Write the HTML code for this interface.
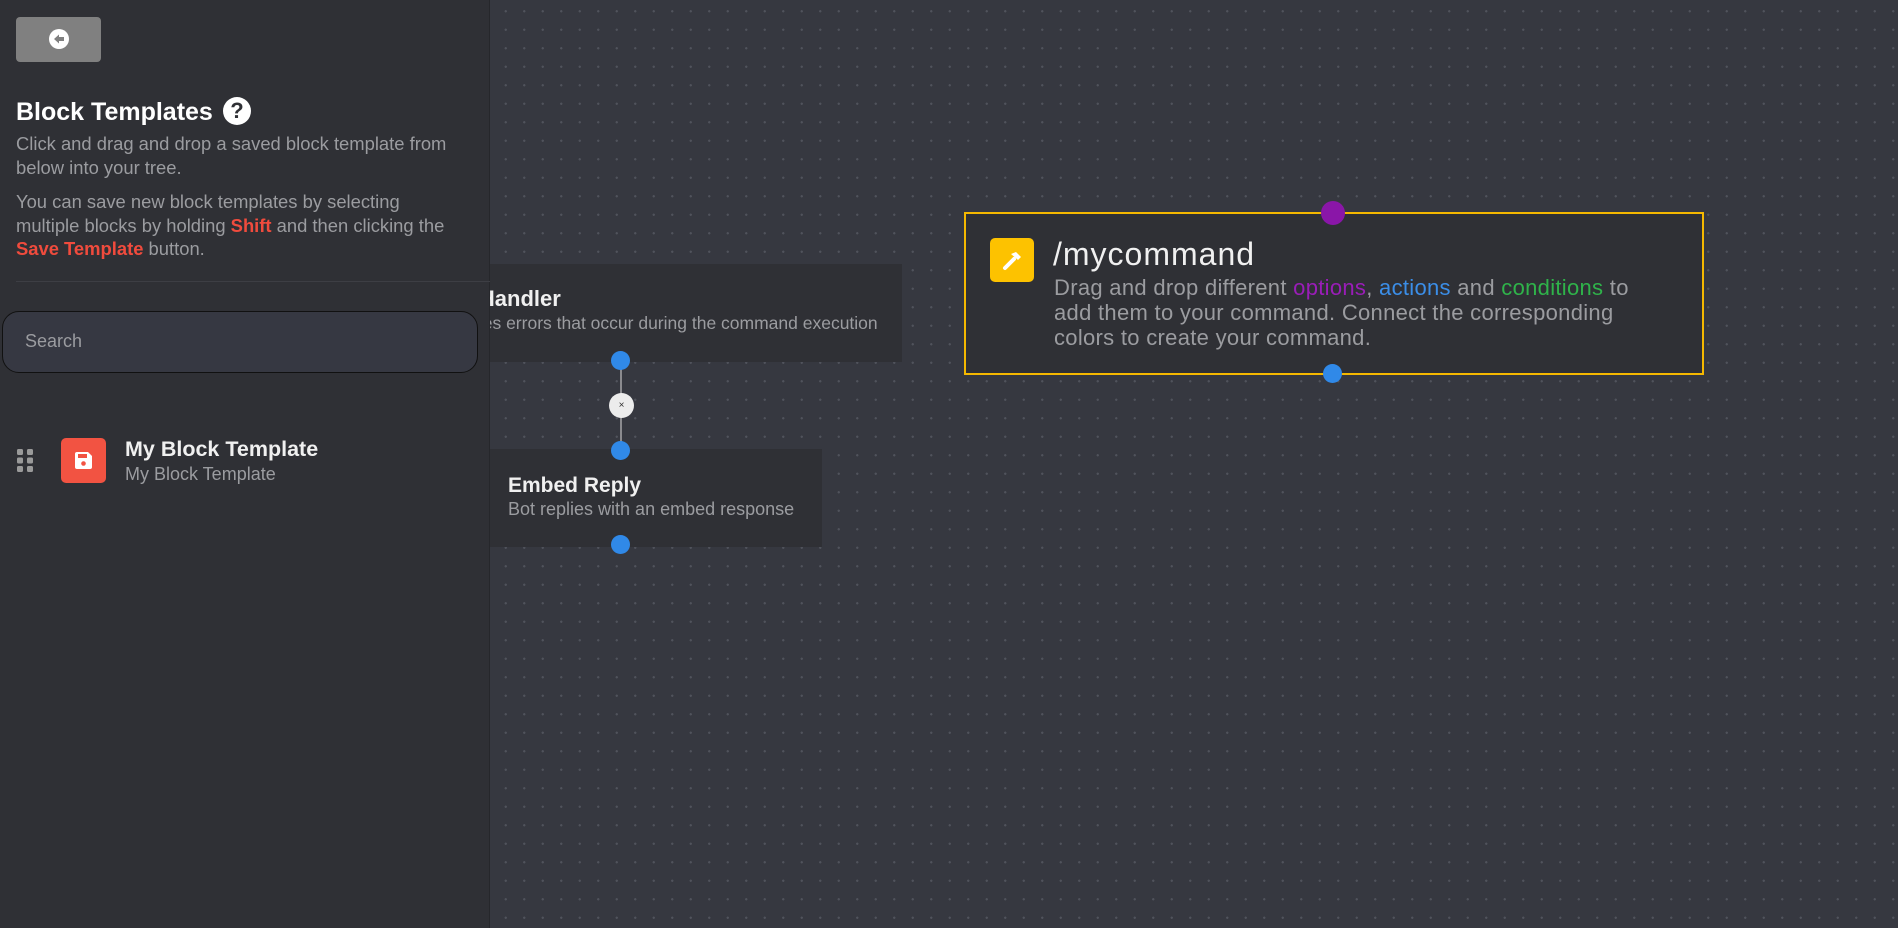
<!DOCTYPE html>
<html><head><meta charset="utf-8"><style>
*{margin:0;padding:0;box-sizing:border-box}
body{width:1898px;height:928px;overflow:hidden;background:#363840;font-family:"Liberation Sans",sans-serif;position:relative}
#canvas{position:absolute;left:0;top:0;width:1898px;height:928px;background-color:#363840;background-image:radial-gradient(circle,#50535c 1px,transparent 1.3px);background-size:18.5px 18.5px;background-position:-3px 2px}
.node{position:absolute;background:#2f3035}
.dot{position:absolute;border-radius:50%;width:19px;height:19px;background:#3089e8}
.t{position:absolute;white-space:nowrap}
#side{position:absolute;left:0;top:0;width:490px;height:928px;background:#2f3035;border-right:1px solid #26272b;z-index:5}
</style></head><body>
<div id="canvas"></div>
<div class="node" style="left:440px;top:264px;width:462px;height:98px"></div>
<div class="t" style="left:419px;top:286px;font-size:22px;color:#f0f0f0;font-weight:bold">Error Handler</div>
<div class="t" style="left:437px;top:313px;font-size:17.5px;color:#9b9ca0">Handles errors that occur during the command execution</div>
<div style="position:absolute;left:620px;top:360px;width:2px;height:90px;background:#8a8a8e"></div>
<div class="dot" style="left:611px;top:351px"></div>
<div style="position:absolute;left:609px;top:393px;width:25px;height:25px;border-radius:50%;background:#ececec;color:#333;font-size:10px;text-align:center;line-height:25px">×</div>
<div class="node" style="left:490px;top:449px;width:332px;height:98px"></div>
<div class="dot" style="left:611px;top:441px"></div>
<div class="t" style="left:508px;top:474px;font-size:21px;color:#f0f0f0;font-weight:bold">Embed Reply</div>
<div class="t" style="left:508px;top:499px;font-size:18px;color:#9b9ca0">Bot replies with an embed response</div>
<div class="dot" style="left:611px;top:535px"></div>
<div class="node" style="left:964px;top:212px;width:740px;height:163px;border:2px solid #f5b800"></div>
<div class="dot" style="left:1321px;top:201px;width:24px;height:24px;background:#8a16a8"></div>
<div class="dot" style="left:1323px;top:364px"></div>
<div style="position:absolute;left:990px;top:238px;width:44px;height:44px;border-radius:5px;background:#fdc200">
<svg width="44" height="44" viewBox="0 0 44 44"><path d="M15 30 L24 21" stroke="#fff" stroke-width="4" stroke-linecap="round"/><path d="M21 16 L26 14 L31 19 L28 22 Z" fill="#fff"/></svg></div>
<div class="t" style="left:1053px;top:236px;font-size:32px;letter-spacing:1px;color:#f0f0f0">/mycommand</div>
<div class="t" style="left:1054px;top:275px;font-size:22px;line-height:25px;color:#9b9ca0;letter-spacing:0.3px">Drag and drop different <span style="color:#9a1db8">options</span>, <span style="color:#3b8ee8">actions</span> and <span style="color:#2fb34a">conditions</span> to<br>add them to your command. Connect the corresponding<br>colors to create your command.</div>
<div id="side">
<div style="position:absolute;left:16px;top:17px;width:85px;height:45px;border-radius:4px;background:#808080">
<svg style="position:absolute;left:32px;top:11px" width="22" height="22" viewBox="0 0 22 22"><circle cx="11" cy="11" r="10" fill="#fff"/><path d="M6 11 L11 6.5 L11 9 L16 9 L16 13 L11 13 L11 15.5 Z" fill="#808080"/></svg></div>
<div class="t" style="left:16px;top:98px;font-size:25px;font-weight:bold;color:#fff">Block Templates</div>
<div style="position:absolute;left:223px;top:97px;width:28px;height:28px;border-radius:50%;background:#fff;color:#2f3035;font-weight:bold;font-size:22px;text-align:center;line-height:28px">?</div>
<div class="t" style="left:16px;top:132px;font-size:18.4px;line-height:24px;color:#9b9ca0">Click and drag and drop a saved block template from<br>below into your tree.</div>
<div class="t" style="left:16px;top:190px;font-size:18.4px;line-height:23.5px;color:#9b9ca0">You can save new block templates by selecting<br>multiple blocks by holding <b style="color:#f04b3d">Shift</b> and then clicking the<br><b style="color:#f04b3d">Save Template</b> button.</div>
<div style="position:absolute;left:16px;top:281px;width:474px;height:1px;background:#3d3e44"></div>
<div style="position:absolute;left:2px;top:311px;width:476px;height:62px;border-radius:17px;background:#363842;border:1px solid #111"></div>
<div class="t" style="left:25px;top:331px;font-size:18px;color:#9b9ca0">Search</div>
<svg style="position:absolute;left:17px;top:449px" width="17" height="23" viewBox="0 0 17 23" fill="#9a9a9a"><rect x="0" y="0" width="6" height="6" rx="1.5"/><rect x="10" y="0" width="6" height="6" rx="1.5"/><rect x="0" y="8.5" width="6" height="6" rx="1.5"/><rect x="10" y="8.5" width="6" height="6" rx="1.5"/><rect x="0" y="17" width="6" height="6" rx="1.5"/><rect x="10" y="17" width="6" height="6" rx="1.5"/></svg>
<div style="position:absolute;left:61px;top:438px;width:45px;height:45px;border-radius:5px;background:#f25342">
<svg style="position:absolute;left:13px;top:13px" width="19" height="19" viewBox="0 0 19 19"><path d="M1 3 Q1 1 3 1 L14 1 L18 5 L18 16 Q18 18 16 18 L3 18 Q1 18 1 16 Z" fill="#fff"/><rect x="4" y="3" width="9" height="4" fill="#f25342"/><circle cx="9.5" cy="12.5" r="2.3" fill="#f25342"/></svg></div>
<div class="t" style="left:125px;top:437px;font-size:21.5px;font-weight:bold;color:#f0f0f0">My Block Template</div>
<div class="t" style="left:125px;top:464px;font-size:18px;color:#9b9ca0">My Block Template</div>
</div>
</body></html>
